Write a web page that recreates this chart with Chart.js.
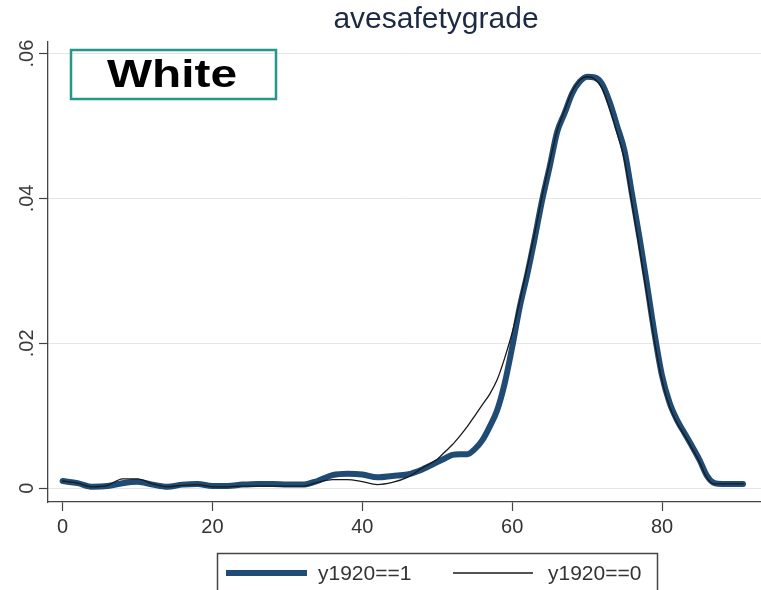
<!DOCTYPE html>
<html>
<head>
<meta charset="utf-8">
<script src="https://cdn.jsdelivr.net/npm/chart.js@4"></script>
<style>
  html, body { margin: 0; padding: 0; background: #fff; }
  #wrap { width: 761px; height: 590px; overflow: hidden; }
</style>
</head>
<body>
<div id="wrap"><canvas id="densityChart" width="761" height="590"></canvas></div>
<script>
// kernel density of avesafetygrade, White sample, split by y1920
const gradeX = [0, 2, 4, 6, 8, 10, 12, 14, 16, 18, 20, 22, 24, 26, 28, 30, 32, 34, 36, 38, 40, 42, 44, 46, 48, 50,
  51, 52, 53, 54, 55, 56, 57, 58, 59, 60, 61, 62, 63, 64, 65, 66, 67, 68, 69, 70,
  71, 72, 73, 74, 75, 76, 77, 78, 79, 80, 81, 82, 83, 84, 85, 86, 87, 88, 89, 90, 90.8];

const density1920yes = [.0010, .0007, .0002, .0003, .0007, .0009, .0005, .0002, .0005, .0006, .0003, .0003, .0005, .0006, .0006, .0005, .0005, .0010, .0018, .0020, .0019, .0015, .0017, .0019, .0026, .0036,
  .0041, .0046, .0047, .0047, .0054, .0066, .0085, .0108, .0145, .0195, .0250, .0295, .0345, .0398, .0444, .0492, .0518, .0545, .0561, .0568,
  .0567, .0558, .0533, .0500, .0465, .0405, .0345, .0280, .0213, .0155, .0118, .0094, .0076, .0058, .0039, .0017, .0007, .0006, .0006, .0006, .0006];

const density1920no = [.0010, .0007, .0002, .0004, .0013, .0013, .0006, .0002, .0004, .0005, .0002, .0002, .0003, .0003, .0003, .0003, .0003, .0008, .0012, .0012, .0009, .0005, .0008, .0015, .0028, .0040,
  .0050, .0060, .0072, .0085, .0100, .0115, .0130, .0150, .0180, .0215, .0258, .0305, .0352, .0404, .0450, .0494, .0522, .0548, .0563, .0568,
  .0565, .0552, .0524, .0490, .0452, .0392, .0330, .0266, .0202, .0148, .0113, .0090, .0073, .0055, .0036, .0014, .0006, .0006, .0006, .0006, .0006];

const seriesNames = ['y1920==1', 'y1920==0'];
const xTicks = [0, 20, 40, 60, 80];
const yTicks = [0, 0.02, 0.04, 0.06];
const yTickLabels = ['0', '.02', '.04', '.06'];

const FONT = '"Liberation Sans", Arial, Helvetica, sans-serif';
const NAVY = '#1f4b74';

function toPoints(ys) {
  return gradeX.map((x, i) => ({ x: x, y: ys[i] }));
}

// title, group label, rotated y labels and the boxed legend
const stataDecor = {
  id: 'stataDecor',
  afterDraw(chart) {
    const ctx = chart.ctx;
    const yScale = chart.scales.y;

    ctx.save();
    ctx.fillStyle = '#3a3a3a';
    ctx.font = '20px ' + FONT;
    ctx.textAlign = 'center';
    ctx.textBaseline = 'middle';
    yTicks.forEach((v, i) => {
      ctx.save();
      ctx.translate(27, yScale.getPixelForValue(v));
      ctx.rotate(-Math.PI / 2);
      ctx.fillText(yTickLabels[i], 0, 0);
      ctx.restore();
    });

    ctx.fillStyle = '#1e2a44';
    ctx.font = '30px ' + FONT;
    ctx.textBaseline = 'alphabetic';
    ctx.fillText('avesafetygrade', 436, 28);

    // group label box
    ctx.strokeStyle = '#22978a';
    ctx.lineWidth = 2.5;
    ctx.strokeRect(71, 50, 205, 49);
    ctx.fillStyle = '#000';
    ctx.font = 'bold 39px ' + FONT;
    const w = ctx.measureText('White').width;
    ctx.save();
    ctx.translate(172, 87);
    ctx.scale(130 / w, 1);
    ctx.fillText('White', 0, 0);
    ctx.restore();

    // legend
    ctx.strokeStyle = '#444';
    ctx.lineWidth = 1.5;
    ctx.strokeRect(217.5, 553.5, 440, 60);
    const ds = chart.data.datasets;
    const entries = [
      { set: ds[1], x0: 226, x1: 307, tx: 318 },
      { set: ds[0], x0: 453, x1: 533, tx: 548 }
    ];
    ctx.textAlign = 'left';
    ctx.font = '21px ' + FONT;
    entries.forEach(e => {
      ctx.strokeStyle = e.set.borderColor;
      ctx.lineWidth = e.set.borderWidth;
      ctx.lineCap = 'butt';
      ctx.beginPath();
      ctx.moveTo(e.x0, 573);
      ctx.lineTo(e.x1, 573);
      ctx.stroke();
      ctx.fillStyle = '#333';
      ctx.fillText(e.set.label, e.tx, 580);
    });
    ctx.restore();
  }
};

new Chart(document.getElementById('densityChart'), {
  type: 'line',
  data: {
    datasets: [
      {
        label: seriesNames[1],
        data: toPoints(density1920no),
        borderColor: '#1a1a1a',
        borderWidth: 1.3,
        order: 1
      },
      {
        label: seriesNames[0],
        data: toPoints(density1920yes),
        borderColor: NAVY,
        borderWidth: 6,
        order: 2
      }
    ]
  },
  options: {
    responsive: false,
    animation: false,
    devicePixelRatio: 1,
    parsing: true,
    elements: {
      point: { radius: 0 },
      line: { cubicInterpolationMode: 'monotone', borderJoinStyle: 'round', borderCapStyle: 'round' }
    },
    layout: { padding: { top: 42, right: 0, left: 0, bottom: 0 } },
    plugins: {
      legend: { display: false },
      title: { display: false },
      tooltip: { enabled: false }
    },
    scales: {
      x: {
        type: 'linear',
        min: -1.95,
        max: 93.2,
        afterBuildTicks: s => { s.ticks = xTicks.map(v => ({ value: v })); },
        afterFit: s => { s.height = 88; },
        ticks: {
          autoSkip: false,
          maxRotation: 0,
          padding: 4,
          color: '#333',
          font: { family: FONT, size: 20 },
          callback: v => String(v)
        },
        grid: { drawOnChartArea: false, tickLength: 9, tickColor: '#444', tickWidth: 1.2 },
        border: { color: '#444', width: 1.3 }
      },
      y: {
        min: -0.0019,
        max: 0.0616,
        afterBuildTicks: s => { s.ticks = yTicks.map(v => ({ value: v })); },
        afterFit: s => { s.width = 48; },
        ticks: { display: false },
        grid: { color: '#e6e6e6', lineWidth: 1, tickLength: 9, tickColor: '#444', tickWidth: 1.2 },
        border: { color: '#444', width: 1.3 }
      }
    }
  },
  plugins: [stataDecor]
});
</script>
</body>
</html>
